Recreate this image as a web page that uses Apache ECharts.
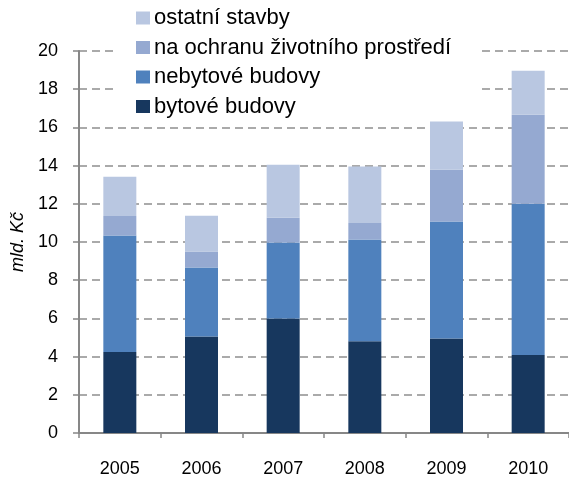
<!DOCTYPE html>
<html>
<head>
<meta charset="utf-8">
<script src="https://cdn.jsdelivr.net/npm/echarts@6/dist/echarts.min.js"></script>
<style>
  html, body { margin: 0; padding: 0; background: #fff; }
  #chart { width: 569px; height: 479px; }
</style>
</head>
<body>
<div id="chart"></div>
<script>
const years = ["2005", "2006", "2007", "2008", "2009", "2010"];
// mld. Kč
const bytove = [4.24, 5.05, 5.99, 4.81, 4.95, 4.08];
const nebytove = [6.1, 3.61, 3.98, 5.32, 6.12, 7.92];
const ochrana = [1.02, 0.84, 1.3, 0.86, 2.71, 4.66];
const ostatni = [2.05, 1.87, 2.77, 2.96, 2.67, 2.3];
const yTicks = { min: 0, max: 20, interval: 2 };

const names = ["bytové budovy", "nebytové budovy", "na ochranu životního prostředí", "ostatní stavby"];
const colors = ["#17375E", "#4F81BD", "#95A9D1", "#B9C7E1"];
const values = [bytove, nebytove, ochrana, ostatni];

let myChart = echarts.init(document.getElementById("chart"));
let option = {
  animation: false,
  textStyle: {
    fontFamily: "Liberation Sans, Arial, sans-serif",
    color: "#000",
  },
  grid: {
    left: 79,
    right: -7,
    top: 51,
    bottom: 46,
  },
  legend: {
    orient: "vertical",
    left: 118,
    top: 3,
    data: names.slice().reverse(),
    itemWidth: 14,
    itemHeight: 13,
    itemGap: 7.5,
    icon: "rect",
    backgroundColor: "#fff",
    padding: [4, 30, 4, 18],
    textStyle: {
      fontSize: 22,
      lineHeight: 22,
      color: "#000",
      padding: [0, 0, 0, -1],
    },
  },
  xAxis: {
    type: "category",
    data: years,
    axisLine: { lineStyle: { color: "#878787", width: 2 } },
    axisTick: { show: true, length: 5, lineStyle: { color: "#878787", width: 1.5 } },
    axisLabel: { fontSize: 18, margin: 27, color: "#000" },
  },
  yAxis: {
    type: "value",
    min: yTicks.min,
    max: yTicks.max,
    interval: yTicks.interval,
    name: "mld. Kč",
    nameLocation: "middle",
    nameGap: 49,
    nameTextStyle: { fontStyle: "italic", fontSize: 18, color: "#000" },
    axisLine: { show: true, lineStyle: { color: "#878787", width: 2 } },
    axisTick: { show: true, length: 6, lineStyle: { color: "#878787", width: 1.5 } },
    axisLabel: { fontSize: 18, margin: 21, color: "#000" },
    splitLine: {
      lineStyle: { color: "#8f8f8f", width: 1.5, type: [8, 5] },
    },
  },
  series: names.map((n, i) => ({
    name: n,
    type: "bar",
    stack: "total",
    barWidth: 33,
    data: values[i],
    itemStyle: { color: colors[i] },
  })),
};
myChart.setOption(option);
</script>
</body>
</html>
